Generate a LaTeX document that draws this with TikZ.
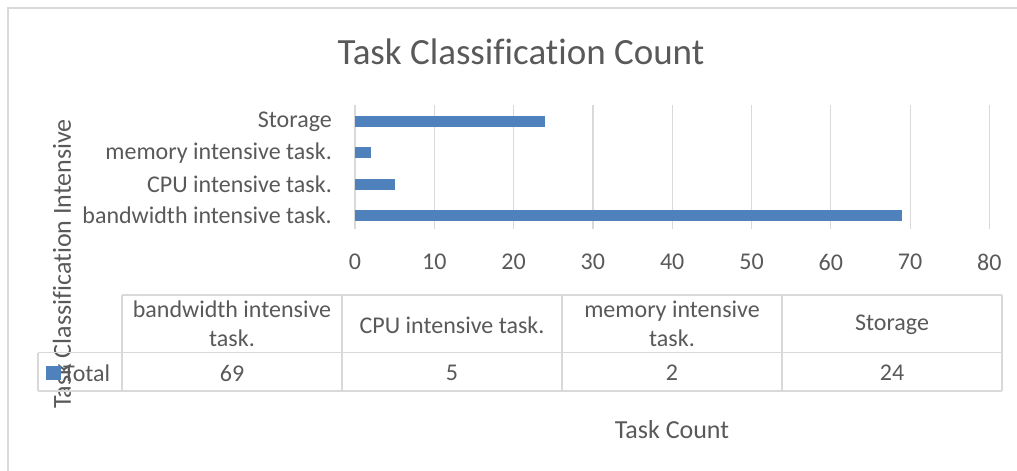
\documentclass[tikz,border=0pt]{standalone}
\usepackage{fontspec}
\setmainfont{Carlito}[Ligatures=NoCommon]
\definecolor{txt}{HTML}{595959}
\definecolor{grid}{HTML}{D9D9D9}
\definecolor{bar}{HTML}{4F81BD}
\begin{document}
\begin{tikzpicture}[x=1pt,y=-1pt,
  lbl/.style={text=txt,font=\fontsize{24}{30}\selectfont,inner sep=0pt},
  cat/.style={lbl,anchor=east},
  tick/.style={lbl},
  cell/.style={lbl,align=center},
  bartile/.style={fill=bar,draw=none},
  gridline/.style={draw=grid,line width=1.2pt},
  tline/.style={draw=grid,line width=1.5pt}]
\useasboundingbox (0,0) rectangle (1017,471);
% frame
\draw[draw=grid,line width=1.5pt] (8,471) -- (8,8) -- (1017,8);
% title
\node[text=txt,font=\fontsize{37}{40}\selectfont,inner sep=0pt] (title) at (521,52) {Task Classification Count};
% grid lines
\foreach \v in {0,...,8}{
  \draw[gridline] ({355+79.3*\v},105) -- ({355+79.3*\v},229);
  \node[tick] (t\v) at ({355+79.3*\v},262) {\the\numexpr\v*10\relax};
}
% bars
\def\u{7.93}
\path[bartile] (355,115.5) rectangle ({355+24*\u},126.5);
\path[bartile] (355,147) rectangle ({355+2*\u},158);
\path[bartile] (355,178.5) rectangle ({355+5*\u},189.5);
\path[bartile] (355,209.5) rectangle ({355+69*\u},220.5);
% category labels
\node[cat] (c1) at (332,122) {Storage};
\node[cat] (c2) at (332,153) {memory intensive task.};
\node[cat] (c3) at (332,184) {CPU intensive task.};
\node[cat] (c4) at (332,215) {bandwidth intensive task.};
% axis titles
\node[lbl,font=\fontsize{26}{30}\selectfont,rotate=90] (ytitle) at (62,264) {Task Classification Intensive};
\node[lbl,font=\fontsize{26}{30}\selectfont] (xtitle) at (672,430) {Task Count};
% data table
\draw[tline] (122,295) -- (1002,295);
\draw[tline] (38,352.5) -- (1002,352.5);
\draw[tline] (38,391) -- (1002,391);
\draw[tline] (38,352.5) -- (38,391);
\foreach \cx in {122,342,562,782,1002}{
  \draw[tline] (\cx,295) -- (\cx,391);
}
\node[cell] (h1) at (232,324) {bandwidth intensive\\[-1pt]task.};
\node[cell] (h2) at (452,325) {CPU intensive task.};
\node[cell] (h3) at (672,324) {memory intensive\\[-1pt]task.};
\node[cell] (h4) at (892,325) {Storage};
\path[bartile] (46,366) rectangle (61,380);
\node[lbl,anchor=west] (tot) at (63,373) {Total};
\node[lbl] (v1) at (232,373) {69};
\node[lbl] (v2) at (452,373) {5};
\node[lbl] (v3) at (672,373) {2};
\node[lbl] (v4) at (892,373) {24};
\end{tikzpicture}
\end{document}
